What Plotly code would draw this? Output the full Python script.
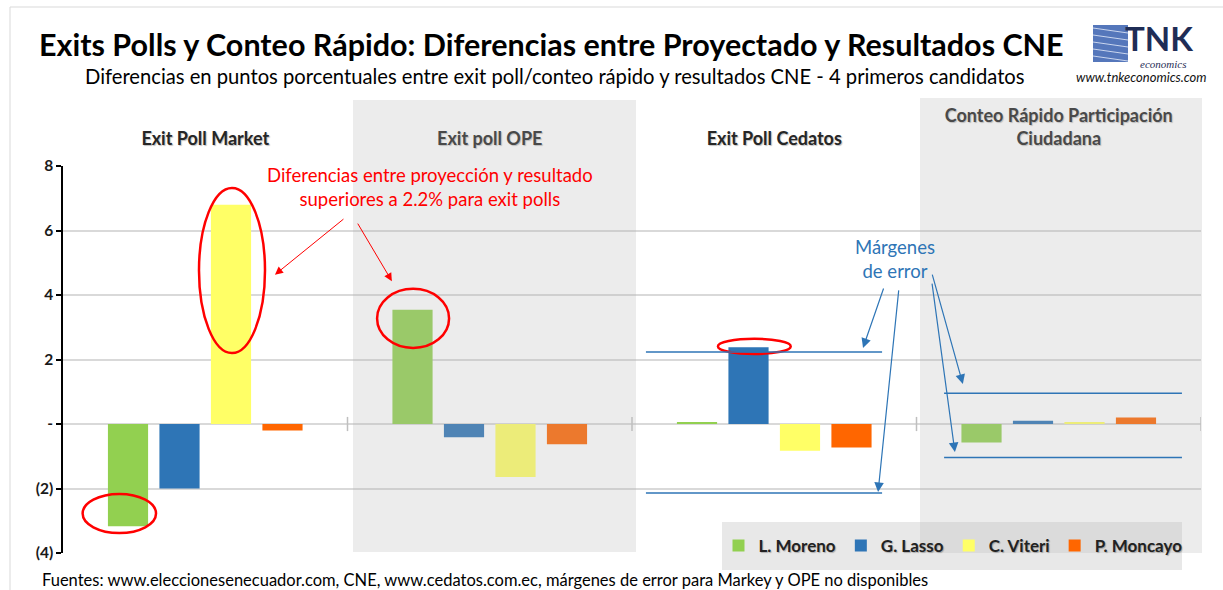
import plotly.graph_objects as go

# ---------------- data ----------------
categories = ["Exit Poll Market", "Exit poll OPE", "Exit Poll Cedatos",
              "Conteo Rápido Participación<br>Ciudadana"]
candidates = ["L. Moreno", "G. Lasso", "C. Viteri", "P. Moncayo"]
moreno = [-3.17, 3.54, 0.04, -0.57]
lasso = [-2.0, -0.41, 2.38, 0.1]
viteri = [6.8, -1.64, -0.83, 0.05]
moncayo = [-0.2, -0.63, -0.73, 0.2]
series = [moreno, lasso, viteri, moncayo]
colors = ["#92D050", "#2E75B6", "#FFFF66", "#FF6600"]

y_tickvals = [-4, -2, 0, 2, 4, 6, 8]
y_ticktext = ["(4)", "(2)", "-", "2", "4", "6", "8"]

# error margins (Cedatos, Conteo rapido)
margin_upper = [2.23, 0.95]
margin_lower = [-2.14, -1.04]

title = "Exits Polls y Conteo Rápido: Diferencias entre Proyectado y Resultados CNE"
subtitle = ("Diferencias en puntos porcentuales entre exit poll/conteo rápido y "
            "resultados CNE - 4 primeros candidatos")
footer = ("Fuentes: www.eleccionesenecuador.com, CNE, www.cedatos.com.ec, "
          "márgenes de error para Markey y OPE no disponibles")

FONT = "Lato, 'Open Sans', sans-serif"

fig = go.Figure()
for name, vals, col in zip(candidates, series, colors):
    fig.add_trace(go.Bar(x=categories, y=vals, name=name,
                         marker=dict(color=col, line=dict(width=0))))

W, H = 1223, 590
L, R, T, B = 63, 22, 166, 37
pw, ph = W - L - R, H - T - B


def px(xp):
    return (xp - L) / pw


def py(yp):
    return (H - B - yp) / ph


shapes = []
# outer border
shapes.append(dict(type="rect", xref="paper", yref="paper", x0=px(10), x1=px(1300),
                   y0=py(700), y1=py(7), line=dict(color="#D9D9D9", width=1),
                   fillcolor="rgba(0,0,0,0)", layer="below"))
# gray panels
panel_fill = "rgba(180,180,180,0.25)"
shapes.append(dict(type="rect", xref="paper", yref="paper", x0=px(353), x1=px(636),
                   y0=py(552), y1=py(100), line=dict(width=0), fillcolor=panel_fill,
                   layer="above"))
shapes.append(dict(type="rect", xref="paper", yref="paper", x0=px(920), x1=px(1202),
                   y0=py(553), y1=py(98), line=dict(width=0), fillcolor=panel_fill,
                   layer="above"))
# category boundary ticks on zero line
for xb in [0.5, 1.5, 2.5, 3.5]:
    shapes.append(dict(type="line", xref="x", yref="y", x0=xb, x1=xb, y0=-0.22, y1=0.22,
                       line=dict(color="#BFBFBF", width=1.5), layer="above"))
# red ellipses
red_ell = [(-0.431, -0.173, -3.38, -2.17), (-0.022, 0.210, 2.20, 7.32),
           (0.604, 0.857, 2.36, 4.19), (1.802, 2.058, 2.17, 2.64)]
for x0, x1, y0, y1 in red_ell:
    shapes.append(dict(type="circle", xref="x", yref="y", x0=x0, x1=x1, y0=y0, y1=y1,
                       line=dict(color="#FF0000", width=2.5), layer="above"))
# blue margin lines
blue = "#2E75B6"
mline_x = [(1.549, 2.379), (2.597, 3.433)]
for (x0, x1), up, lo in zip(mline_x, margin_upper, margin_lower):
    shapes.append(dict(type="line", xref="x", yref="y", x0=x0, x1=x1, y0=up, y1=up,
                       line=dict(color=blue, width=1.5), layer="above"))
    shapes.append(dict(type="line", xref="x", yref="y", x0=x0, x1=x1, y0=lo, y1=lo,
                       line=dict(color=blue, width=1.5), layer="above"))
# legend box
shapes.append(dict(type="rect", xref="paper", yref="paper", x0=px(722), x1=px(1182),
                   y0=py(570), y1=py(522), line=dict(width=0),
                   fillcolor="rgba(180,180,180,0.3)", layer="above"))
# logo square
shapes.append(dict(type="rect", xref="paper", yref="paper", x0=px(1093), x1=px(1128),
                   y0=py(62), y1=py(25), line=dict(width=0), fillcolor="#5577BB",
                   layer="above"))
for k in range(5):
    shapes.append(dict(type="line", xref="paper", yref="paper",
                       x0=px(1093), x1=px(1128), y0=py(28 + 7 * k), y1=py(33 + 7 * k),
                       line=dict(color="#C9D5EE", width=1), layer="above"))


def note(x, y, text, size, color="#000000", xref="paper", yref="paper", xanchor="center",
         family=FONT, style="normal"):
    return dict(xref=xref, yref=yref, x=x, y=y, text=text, showarrow=False,
                xanchor=xanchor, yanchor="middle",
                font=dict(family=family, size=size, color=color, style=style))


annotations = [
    note(px(551), py(44), f"<b>{title}</b>", 30.5),
    note(px(555), py(76), subtitle, 20.2),
    note(px(40), py(580), footer, 16.5, xanchor="left"),
    note(px(1159), py(38), "<b>TNK</b>", 33, color="#1F2D56"),
    note(px(1163), py(64), "economics", 11, color="#1F2D56",
         family="'Liberation Serif', serif", style="italic"),
    note(px(1141), py(77), "www.tnkeconomics.com", 13, color="#111111", style="italic"),
    note(0.791, 7.35, "Diferencias entre proyección y resultado<br>superiores a 2.2% para exit polls",
         18.5, color="#FF0000", xref="x", yref="y"),
    note(2.425, 5.12, "Márgenes<br>de error", 18.5, color=blue, xref="x", yref="y"),
]
for (tx, ty), (hx, hy) in [((0.491, 6.39), (0.245, 4.63)), ((0.533, 6.26), (0.656, 4.43))]:
    annotations.append(dict(xref="x", yref="y", axref="x", ayref="y", x=hx, y=hy, ax=tx, ay=ty,
                            text="", showarrow=True, arrowhead=2, arrowsize=1.6,
                            arrowwidth=1, arrowcolor="#FF0000"))
for (tx, ty), (hx, hy) in [((2.386, 4.25), (2.312, 2.36)), ((2.438, 4.19), (2.365, -2.11)),
                           ((2.554, 4.68), (2.663, 1.24)), ((2.554, 4.40), (2.635, -0.87))]:
    annotations.append(dict(xref="x", yref="y", axref="x", ayref="y", x=hx, y=hy, ax=tx, ay=ty,
                            text="", showarrow=True, arrowhead=2, arrowsize=1.6,
                            arrowwidth=1.2, arrowcolor=blue))

fig.update_layout(
    width=W, height=H,
    margin=dict(l=L, r=R, t=T, b=B),
    paper_bgcolor="white", plot_bgcolor="white",
    barmode="group", bargap=0.276, bargroupgap=0.22,
    showlegend=True,
    legend=dict(orientation="h", x=px(953), xanchor="center", y=py(546), yanchor="middle",
                bgcolor="rgba(0,0,0,0)",
                font=dict(family=FONT, size=17, color="#222222", weight="bold",
                          shadow="1px 1px 1px rgba(0,0,0,0.25)")),
    xaxis=dict(side="top", showline=False, ticks="", showgrid=False, zeroline=False,
               range=[-0.5, 3.5], ticklabelstandoff=16,
               tickfont=dict(family=FONT, size=18, color="#262626", weight="bold",
                             shadow="1px 1px 1px rgba(0,0,0,0.25)")),
    yaxis=dict(range=[-4, 8], tickvals=y_tickvals, ticktext=y_ticktext,
               showline=True, linecolor="#000000", linewidth=1.5,
               ticks="outside", ticklen=5, tickcolor="#000000", tickwidth=1.5,
               showgrid=True, gridcolor="#D9D9D9", gridwidth=1.5,
               zeroline=True, zerolinecolor="#D9D9D9", zerolinewidth=1.5,
               tickfont=dict(family=FONT, size=15.5, color="#1A1A1A", weight="bold")),
    shapes=shapes, annotations=annotations,
)

fig.write_html("out.html", config={"displayModeBar": False},
               post_script="document.body.style.margin='0';")
